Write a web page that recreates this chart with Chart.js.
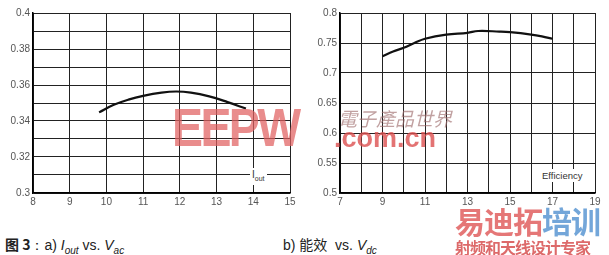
<!DOCTYPE html>
<html>
<head>
<meta charset="utf-8">
<script src="https://cdn.jsdelivr.net/npm/chart.js@4.4.1/dist/chart.umd.min.js"></script>
<style>
  body { margin:0; width:609px; height:255px; background:#fff; position:relative; overflow:hidden; font-family:"Liberation Sans", Arial, sans-serif; }
  .box { position:absolute; top:0; height:210px; }
  #leftBox { left:0; width:300px; }
  #rightBox { left:300px; width:309px; }
  .tag { position:absolute; background:#fff; color:#333; font-size:10px; line-height:13px; padding:0 2px; }
  .cap { position:absolute; top:234px; font-size:14px; color:#222; }
  .wm { position:absolute; pointer-events:none; }
</style>
</head>
<body>
<div class="box" id="leftBox"><canvas id="leftChart"></canvas></div>
<div class="box" id="rightBox"><canvas id="rightChart"></canvas></div>

<div class="tag" style="left:250px; top:168px;">I<sub style="font-size:7px">out</sub></div>
<div class="tag" style="left:540px; top:169px; font-size:9.5px;">Efficiency</div>

<!-- watermarks -->
<div class="wm" style="left:172px; top:96px; font:bold 54px 'Liberation Sans'; color:rgba(225,95,95,0.72); letter-spacing:-3px; transform:scaleX(0.86); transform-origin:left top;">EEPW</div>
<div class="wm" style="left:338px; top:104px; font:italic 19px 'Noto Sans CJK SC'; color:rgba(160,110,110,0.65);">電子產品世界</div>
<div class="wm" style="left:334px; top:123px; font:bold 27px 'Liberation Sans'; color:rgba(220,80,80,0.8);">.com.cn</div>
<div class="wm" style="left:455px; top:198px; font:bold 30px 'Noto Sans CJK SC'; color:rgba(225,95,95,0.85); letter-spacing:-1px;">易迪拓<span style="color:rgba(90,150,210,0.85)">培训</span></div>
<div class="wm" style="left:455px; top:235px; font:bold 16px 'Noto Sans CJK SC'; color:rgba(215,80,80,0.85); letter-spacing:-1px;">射频和天线设计专家</div>

<div class="cap" style="left:5px;"><b style="font-family:'Noto Sans CJK SC'">图 3</b>：a) <i>I<sub style="font-size:10px">out</sub></i> vs. <i>V<sub style="font-size:10px">ac</sub></i></div>
<div class="cap" style="left:283px;">b) <span style="font-family:'Noto Sans CJK SC'">能效</span> &nbsp;vs. <i>V<sub style="font-size:10px">dc</sub></i></div>

<script>
// left chart: Iout vs Vac
const vacValues = [9.8, 10.2, 10.6, 11.0, 11.5, 11.9, 12.3, 12.8, 13.3, 13.8];
const ioutValues = [0.3448, 0.3490, 0.3519, 0.3540, 0.3558, 0.3564, 0.3558, 0.3537, 0.3505, 0.3469];

// right chart: efficiency vs Vdc
const vdcValues = [9, 9.5, 10, 10.5, 11, 12, 13, 13.5, 14.5, 15, 16, 16.5, 17];
const effValues = [0.728, 0.736, 0.742, 0.750, 0.757, 0.764, 0.767, 0.770, 0.769, 0.768, 0.764, 0.761, 0.757];

const tickColor = '#555';
const tickFont = { family: 'Liberation Sans', size: 10 };

function pts(xs, ys) {
    return xs.map((x, i) => ({ x: x, y: ys[i] }));
}

function makeChart(id, xs, ys, xr, yr, yWidth, padRight, xLabel, yLabel) {
    return new Chart(document.getElementById(id), {
        type: 'line',
        data: {
            datasets: [{
                data: pts(xs, ys),
                borderColor: '#111',
                borderWidth: 2.2,
                pointRadius: 0,
                tension: 0.4,
                fill: false
            }]
        },
        options: {
            responsive: true,
            maintainAspectRatio: false,
            animation: false,
            layout: { padding: { top: 13, right: padRight, left: 0, bottom: 0 } },
            plugins: { legend: { display: false }, tooltip: { enabled: false } },
            scales: {
                x: {
                    type: 'linear', min: xr[0], max: xr[1],
                    afterFit: s => { s.height = 17; },
                    border: { color: '#000', width: 1.5 },
                    grid: { color: '#222', lineWidth: 1, drawTicks: false },
                    ticks: { stepSize: 1, color: tickColor, font: tickFont, padding: 3, autoSkip: false, maxRotation: 0, callback: xLabel }
                },
                y: {
                    min: yr[0], max: yr[1],
                    afterFit: s => { s.width = yWidth; },
                    border: { color: '#000', width: 1.5 },
                    grid: { color: '#222', lineWidth: 1, drawTicks: false },
                    ticks: { stepSize: yr[2], color: tickColor, font: tickFont, padding: 3, autoSkip: false, callback: yLabel }
                }
            }
        }
    });
}

makeChart('leftChart', vacValues, ioutValues, [8, 15], [0.3, 0.4, 0.01], 33, 10,
    v => String(v),
    v => {
        const k = Math.round(v * 100);
        return k % 2 === 0 ? String(k / 100) : '';
    });

makeChart('rightChart', vdcValues, effValues, [7, 19], [0.5, 0.8, 0.05], 40, 14,
    v => (Math.round(v) % 2 === 1 ? String(v) : ''),
    v => String(Math.round(v * 100) / 100));
</script>
</body>
</html>
